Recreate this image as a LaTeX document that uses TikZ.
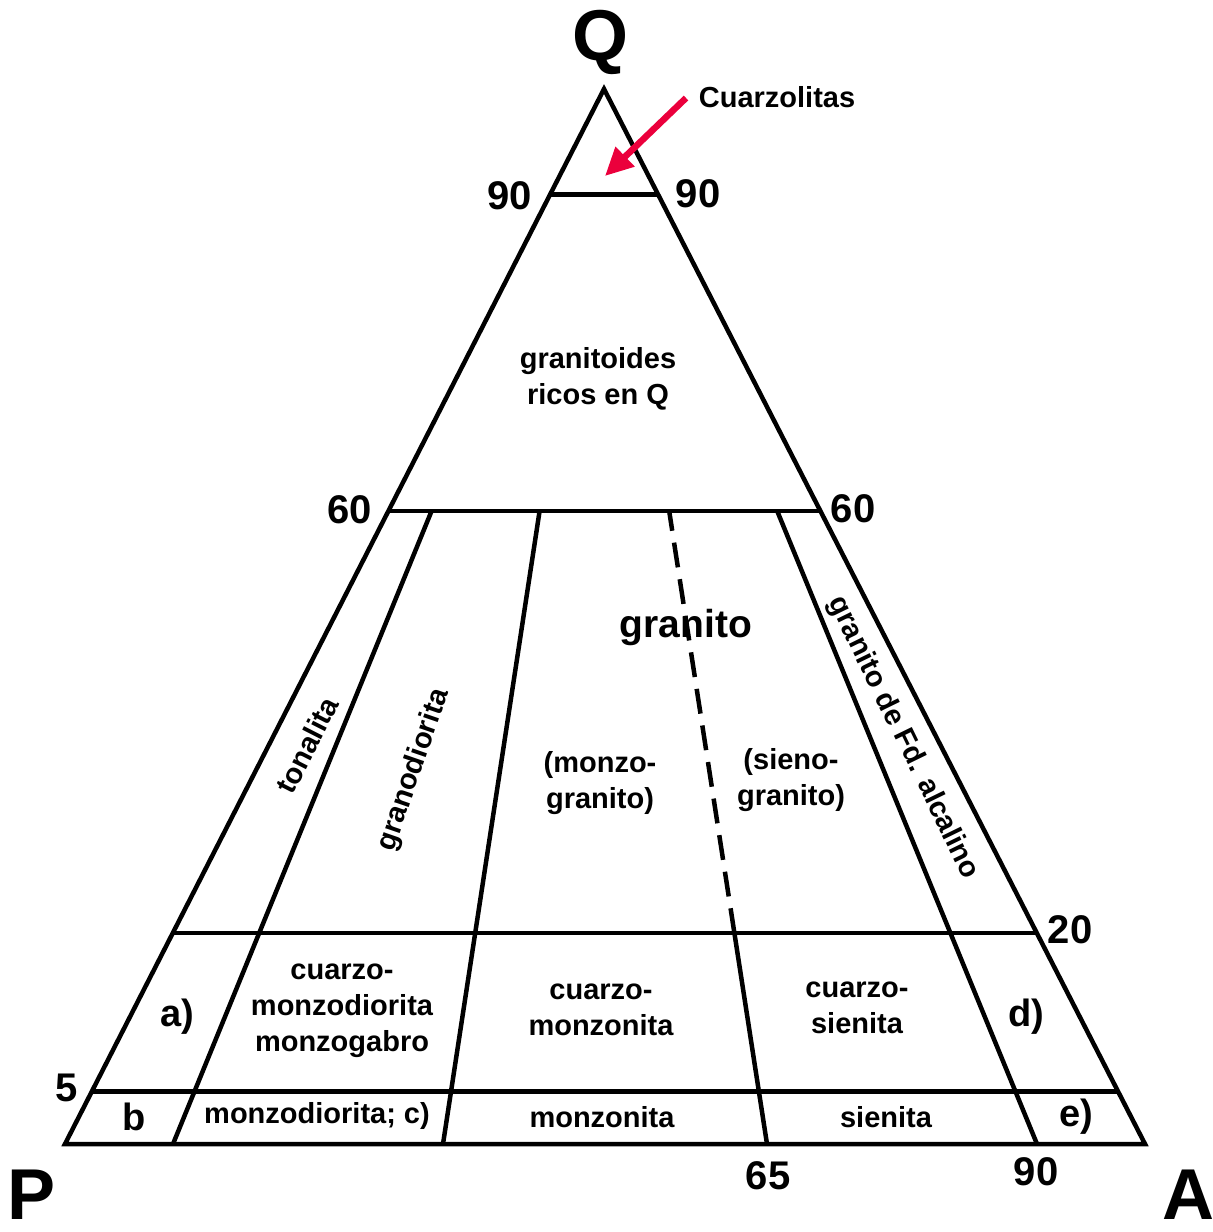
\documentclass[tikz,border=0pt]{standalone}
\usepackage{fontspec}
\setmainfont{Liberation Sans}
\usetikzlibrary{arrows.meta}
\definecolor{pointerred}{RGB}{235,0,60}
\begin{document}
\begin{tikzpicture}[x=1pt,y=-1pt,
  edge/.style={line width=4.5pt},
  divide/.style={line width=4.5pt},
  dashdiv/.style={line width=4.5pt, dash pattern=on 25pt off 12pt},
  lbl/.style={font=\fontsize{29}{36}\selectfont\bfseries, align=center, inner sep=0pt},
  tag/.style={font=\fontsize{38}{38}\selectfont\bfseries, inner sep=0pt},
  num/.style={font=\fontsize{40}{40}\selectfont\bfseries, inner sep=0pt},
  apex/.style={font=\fontsize{72}{72}\selectfont\bfseries, inner sep=0pt},
  pointer/.style={line width=6.5pt, pointerred, -{Triangle[length=28pt,width=26pt]}}]
\useasboundingbox (0,0) rectangle (1213,1232);

% corners of the QAP triangle
\coordinate (Q) at (604,89);
\coordinate (P) at (65,1144);
\coordinate (A) at (1145,1144);

% horizontal boundaries (Q = 90, 60, 20, 5 %)
\foreach \q/\n in {0.9/q90, 0.6/q60, 0.2/q20, 0.05/q05}{
  \coordinate (\n P) at (barycentric cs:Q=\q,P={1-\q},A=0);
  \coordinate (\n A) at (barycentric cs:Q=\q,P=0,A={1-\q});
}

% radial boundaries, A/(A+P) = 10, 35, 65, 90 %
\foreach \r/\n in {0.1/r10, 0.35/r35, 0.65/r65, 0.9/r90}{
  \coordinate (\n b) at (barycentric cs:Q=0,P={1-\r},A=\r);
  \coordinate (\n m) at (barycentric cs:Q=0.2,P={0.8*(1-\r)},A={0.8*\r});
  \coordinate (\n t) at (barycentric cs:Q=0.6,P={0.4*(1-\r)},A={0.4*\r});
}

\draw[edge] (Q) -- (P) -- (A) -- cycle;
\draw[divide] (q90P) -- (q90A);
\draw[divide] (q60P) -- (q60A);
\draw[divide] (q20P) -- (q20A);
\draw[divide] (q05P) -- (q05A);
\draw[divide] (r10b) -- (r10t);
\draw[divide] (r35b) -- (r35t);
\draw[divide] (r65b) -- (r65m);
\draw[divide] (r90b) -- (r90t);

% corner letters and scale values
\node[apex] (lQ) at (600,42) {Q};
\node[apex] (lP) at (32,1195) {P};
\node[apex] (lA) at (1188,1195) {A};
\node[num] (n90l) at (510,196) {90};
\node[num] (n90r) at (698,194) {90};
\node[num] (n60l) at (350,510) {60};
\node[num] (n60r) at (853,509) {60};
\node[num] (n20) at (1070,930) {20};
\node[num] (n5) at (67,1088) {5};
\node[num] (n65) at (768,1176) {65};
\node[num] (n90b) at (1036,1172) {90};

% field names
\node[lbl] (cuarz) at (777,97) {Cuarzolitas};
\coordinate (cuarzTail) at (686,98);
\coordinate (cuarzTip) at (605,176);
\draw[pointer] (cuarzTail) -- (cuarzTip);

\node[lbl] (grq) at (598,379) {granitoides\\ricos en Q};
\node[font=\fontsize{39}{39}\selectfont\bfseries, inner sep=0pt] (gran) at (686,627) {granito};
\draw[dashdiv] (r65m) -- (r65t);
\node[lbl] (monzog) at (600,783) {(monzo-\\granito)};
\node[lbl] (sienog) at (791,780) {(sieno-\\granito)};
\node[lbl, rotate=63] (tonal) at (307,745) {tonalita};
\node[lbl, rotate=71] (grdio) at (414,770) {granodiorita};
\node[lbl, rotate=-64] (alcal) at (903,738) {granito de Fd. alcalino};

\node[lbl] (qmd) at (342,1011) {cuarzo-\\monzodiorita\\monzogabro};
\node[lbl] (qmz) at (601,1010) {cuarzo-\\monzonita};
\node[lbl] (qsi) at (857,1008) {cuarzo-\\sienita};
\node[tag] (fa) at (177,1017) {a)};
\node[tag] (fd) at (1026,1017) {d)};

\node[tag] (fb) at (134,1117) {b};
\node[lbl] (mzd) at (317,1116) {monzodiorita; c)};
\node[lbl] (mzn) at (602,1117) {monzonita};
\node[lbl] (sie) at (886,1117) {sienita};
\node[tag] (fe) at (1076,1117) {e)};
\end{tikzpicture}
\end{document}
